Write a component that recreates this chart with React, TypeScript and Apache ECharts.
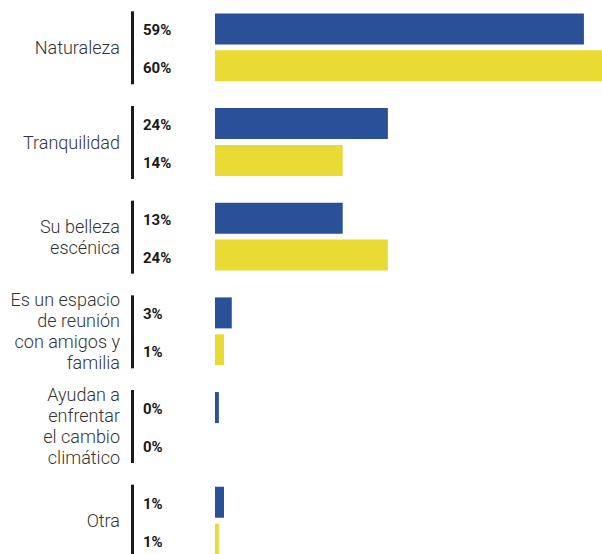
import React, { useEffect, useRef } from "react";
import * as echarts from "echarts";

const categories = [
  "Naturaleza",
  "Tranquilidad",
  "Su belleza\nescénica",
  "Es un espacio\nde reunión\ncon amigos y\nfamilia",
  "Ayudan a\nenfrentar\nel cambio\nclimático",
  "Otra",
];
// bar lengths as drawn in the picture (axis units, 60 = full width)
const blueValues = [57.2, 26.8, 19.8, 2.6, 0.6, 1.4];
const yellowValues = [60, 19.8, 26.8, 1.4, 0, 0.6];
// printed labels
const blueLabels = ["59%", "24%", "13%", "3%", "0%", "1%"];
const yellowLabels = ["60%", "14%", "24%", "1%", "0%", "1%"];

const BLUE = "#2a5097";
const YELLOW = "#e9db33";

export default function App() {
  const ref = useRef<HTMLDivElement>(null);
  useEffect(() => {
    document.body.style.margin = "0";
    if (!ref.current) return;
    const chart = echarts.init(ref.current, undefined, { renderer: "svg" });
    chart.setOption({
      animation: false,
      grid: {
        left: 215,
        right: 0,
        top: 0,
        height: 568,
        containLabel: false,
        outerBoundsMode: "none",
      },
      xAxis: { type: "value", min: 0, max: 60, show: false },
      yAxis: {
        type: "category",
        inverse: true,
        data: categories,
        axisLine: { show: false },
        axisTick: { show: false },
        splitLine: { show: false },
        axisLabel: {
          margin: 95,
          align: "right",
          fontFamily: "Roboto",
          fontWeight: 300,
          fontSize: 18,
          lineHeight: 21,
          color: "#333333",
        },
      },
      series: [
        {
          type: "bar",
          data: blueValues,
          barWidth: 31,
          barGap: "19%",
          itemStyle: { color: BLUE },
        },
        {
          type: "bar",
          data: yellowValues,
          barWidth: 31,
          barGap: "19%",
          itemStyle: { color: YELLOW },
        },
        {
          type: "custom",
          data: categories.map((_, i) => [0, i]),
          silent: true,
          renderItem: (params: any, api: any) => {
            const i = params.dataIndex;
            const p = api.coord([0, api.value(1)]);
            const textStyle = {
              fontFamily: "Roboto",
              fontWeight: 700,
              fontSize: 15,
              fill: "#1a1a1a",
              verticalAlign: "middle",
              align: "left",
            };
            return {
              type: "group",
              children: [
                {
                  type: "rect",
                  shape: { x: p[0] - 84, y: p[1] - 36, width: 3, height: 73 },
                  style: { fill: "#1a1a1a" },
                },
                {
                  type: "text",
                  x: p[0] - 72,
                  y: p[1] - 17,
                  style: { ...textStyle, text: blueLabels[i] },
                },
                {
                  type: "text",
                  x: p[0] - 72,
                  y: p[1] + 21,
                  style: { ...textStyle, text: yellowLabels[i] },
                },
              ],
            };
          },
        },
      ],
    });
    return () => chart.dispose();
  }, []);
  return <div ref={ref} style={{ width: 602, height: 554 }} />;
}
